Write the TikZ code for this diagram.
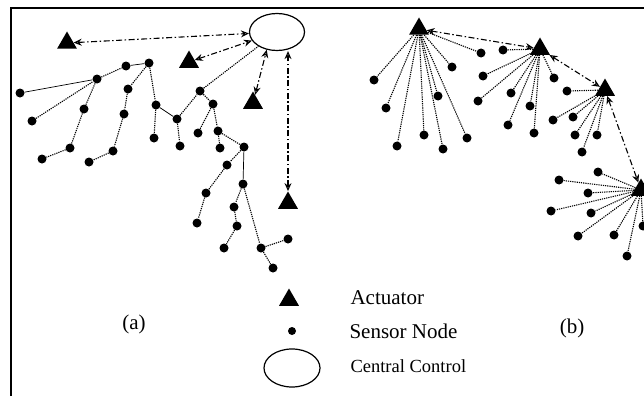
\documentclass[tikz,border=0pt]{standalone}
\usepackage{fontspec}
\setmainfont{Liberation Serif}
\usepackage{tikz}
\usetikzlibrary{arrows.meta}
\usetikzlibrary{shapes.geometric}

\begin{document}
\begin{tikzpicture}[x=1pt, y=-1pt,
    snode/.style={circle, fill=black, inner sep=0pt, minimum size=9pt},
    anode/.style={regular polygon, regular polygon sides=3, fill=black, inner sep=0pt, minimum size=23pt},
    cnode/.style={ellipse, draw=black, line width=1.2pt, inner sep=0pt, minimum width=55pt, minimum height=37pt},
    dotlink/.style={line width=1.1pt, dash pattern=on 1.2pt off 1pt},
    solidlink/.style={line width=0.7pt},
    msglink/.style={{Stealth[open,length=8pt,width=7pt]}-{Stealth[open,length=8pt,width=7pt]}, line width=1.1pt, dash pattern=on 6pt off 2.5pt on 1.5pt off 2.5pt},
    keytext/.style={anchor=base west, font=\fontsize{21}{24}\selectfont}]
    \useasboundingbox (0,0) rectangle (644,396);
    \draw[line width=2pt] (11,396) -- (11,8.5) -- (644,8.5);

    % (a) central control, actuators, sensor tree
    \node[cnode] (C) at (277,32) {};
    \node[anode] (A1) at (67,43) {};
    \node[anode] (A2) at (189,62) {};
    \node[anode] (A3) at (253,103) {};
    \node[anode] (A4) at (288,203) {};
    \node[snode] (s1) at (20,93) {};
    \node[snode] (s2) at (97,79) {};
    \node[snode] (s3) at (126,66) {};
    \node[snode] (s4) at (149,63) {};
    \node[snode] (s5) at (32,121) {};
    \node[snode] (s6) at (84,109) {};
    \node[snode] (s7) at (70,148) {};
    \node[snode] (s8) at (42,159) {};
    \node[snode] (s9) at (128,89) {};
    \node[snode] (s10) at (124,114) {};
    \node[snode] (s11) at (113,151) {};
    \node[snode] (s12) at (89,162) {};
    \node[snode] (s13) at (156,105) {};
    \node[snode] (s14) at (154,138) {};
    \node[snode] (s15) at (177,119) {};
    \node[snode] (s16) at (180,146) {};
    \node[snode] (s17) at (200,91) {};
    \node[snode] (s18) at (213,104) {};
    \node[snode] (s19) at (198,133) {};
    \node[snode] (s20) at (218,131) {};
    \node[snode] (s21) at (220,148) {};
    \node[snode] (s22) at (244,147) {};
    \node[snode] (s23) at (227,165) {};
    \node[snode] (s24) at (206,193) {};
    \node[snode] (s25) at (243,184) {};
    \node[snode] (s26) at (197,223) {};
    \node[snode] (s27) at (234,207) {};
    \node[snode] (s28) at (237,226) {};
    \node[snode] (s29) at (224,248) {};
    \node[snode] (s30) at (261,248) {};
    \node[snode] (s31) at (288,239) {};
    \node[snode] (s32) at (273,268) {};
    \path [msglink] (A1) edge (C);
    \path [msglink] (A2) edge (C);
    \path [msglink] (A3) edge (C.-120);
    \path [msglink] (A4) edge (A4 |- C.south);
    \path [solidlink] (s1) edge (s2);
    \path [dotlink] (s5) edge (s2);
    \path [dotlink] (s6) edge (s2);
    \path [dotlink] (s6) edge (s7);
    \path [dotlink] (s7) edge (s8);
    \path [dotlink] (s2) edge (s3);
    \path [solidlink] (s3) edge (s4);
    \path [dotlink] (s4) edge (s9);
    \path [dotlink] (s9) edge (s10);
    \path [dotlink] (s10) edge (s11);
    \path [dotlink] (s11) edge (s12);
    \path [dotlink] (s4) edge (s13);
    \path [dotlink] (s13) edge (s14);
    \path [solidlink] (s13) edge (s15);
    \path [dotlink] (s15) edge (s16);
    \path [dotlink] (s15) edge (s17);
    \path [dotlink] (s17) edge (C);
    \path [dotlink] (s17) edge (s18);
    \path [dotlink] (s18) edge (s19);
    \path [dotlink] (s18) edge (s20);
    \path [dotlink] (s20) edge (s21);
    \path [dotlink] (s20) edge (s22);
    \path [dotlink] (s22) edge (s23);
    \path [solidlink] (s22) edge (s25);
    \path [dotlink] (s23) edge (s24);
    \path [dotlink] (s24) edge (s26);
    \path [dotlink] (s25) edge (s27);
    \path [dotlink] (s27) edge (s28);
    \path [dotlink] (s28) edge (s29);
    \path [dotlink] (s25) edge (s30);
    \path [dotlink] (s30) edge (s31);
    \path [dotlink] (s30) edge (s32);

    % (b) actuator chain with sensor clusters
    \node[anode] (B1) at (419,29) {};
    \node[anode] (B2) at (540,49) {};
    \node[anode] (B3) at (605,90) {};
    \node[anode] (B4) at (641,190) {};
    \node[snode] (b11) at (374,80) {};
    \node[snode] (b12) at (386,108) {};
    \node[snode] (b13) at (397,146) {};
    \node[snode] (b14) at (424,135) {};
    \node[snode] (b15) at (443,149) {};
    \node[snode] (b16) at (467,138) {};
    \node[snode] (b17) at (438,96) {};
    \node[snode] (b18) at (452,67) {};
    \node[snode] (b19) at (481,53) {};
    \node[snode] (b21) at (503,50) {};
    \node[snode] (b22) at (483,76) {};
    \node[snode] (b23) at (478,101) {};
    \node[snode] (b24) at (511,93) {};
    \node[snode] (b25) at (508,125) {};
    \node[snode] (b26) at (530,106) {};
    \node[snode] (b27) at (534,133) {};
    \node[snode] (b28) at (554,78) {};
    \node[snode] (b31) at (567,91) {};
    \node[snode] (b32) at (553,120) {};
    \node[snode] (b33) at (573,117) {};
    \node[snode] (b34) at (575,135) {};
    \node[snode] (b35) at (597,135) {};
    \node[snode] (b36) at (582,152) {};
    \node[snode] (b41) at (598,172) {};
    \node[snode] (b42) at (559,180) {};
    \node[snode] (b43) at (588,193) {};
    \node[snode] (b44) at (551,211) {};
    \node[snode] (b45) at (591,213) {};
    \node[snode] (b46) at (578,236) {};
    \node[snode] (b47) at (614,235) {};
    \node[snode] (b48) at (627,256) {};
    \node[snode] (b49) at (643,226) {};
    \path [msglink] (B1) edge (B2);
    \path [msglink] (B2) edge (B3);
    \path [msglink] (B3) edge (B4);
    \path [dotlink] (B1) edge (b11);
    \path [dotlink] (B1) edge (b12);
    \path [dotlink] (B1) edge (b13);
    \path [dotlink] (B1) edge (b14);
    \path [dotlink] (B1) edge (b15);
    \path [dotlink] (B1) edge (b16);
    \path [dotlink] (B1) edge (b17);
    \path [dotlink] (B1) edge (b18);
    \path [dotlink] (B1) edge (b19);
    \path [dotlink] (B2) edge (b21);
    \path [dotlink] (B2) edge (b22);
    \path [dotlink] (B2) edge (b23);
    \path [dotlink] (B2) edge (b24);
    \path [dotlink] (B2) edge (b25);
    \path [dotlink] (B2) edge (b26);
    \path [dotlink] (B2) edge (b27);
    \path [dotlink] (B2) edge (b28);
    \path [dotlink] (B3) edge (b31);
    \path [dotlink] (B3) edge (b32);
    \path [dotlink] (B3) edge (b33);
    \path [dotlink] (B3) edge (b34);
    \path [dotlink] (B3) edge (b35);
    \path [dotlink] (B3) edge (b36);
    \path [dotlink] (B4) edge (b41);
    \path [dotlink] (B4) edge (b42);
    \path [dotlink] (B4) edge (b43);
    \path [dotlink] (B4) edge (b44);
    \path [dotlink] (B4) edge (b45);
    \path [dotlink] (B4) edge (b46);
    \path [dotlink] (B4) edge (b47);
    \path [dotlink] (B4) edge (b48);
    \path [dotlink] (B4) edge (b49);

    % key
    \node[anode] (KA) at (289,300) {};
    \node[keytext] (KAt) at (347,304) {Actuator};
    \node[snode, minimum size=8pt] (KS) at (292,331) {};
    \node[keytext] (KSt) at (346,338) {Sensor Node};
    \node[cnode, minimum width=56pt, minimum height=38pt] (KC) at (292,368) {};
    \node[keytext, font=\fontsize{18.5}{21}\selectfont] (KCt) at (347,372) {Central Control};
    \node[font=\fontsize{21}{24}\selectfont] (la) at (134,324) {(a)};
    \node[font=\fontsize{21}{24}\selectfont] (lb) at (572,328) {(b)};
  \end{tikzpicture}
\end{document}
